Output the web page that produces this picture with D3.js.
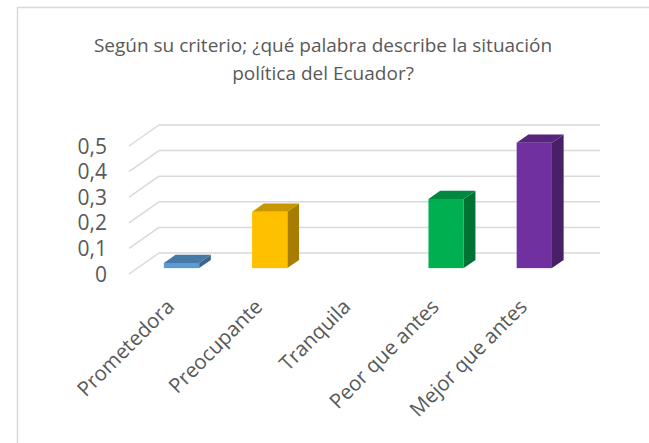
<!DOCTYPE html>
<html>
<head>
<meta charset="utf-8">
<script src="https://cdn.jsdelivr.net/npm/d3@7"></script>
<style>
  body { margin: 0; background: #fff; }
  text { font-family: "Open Sans", sans-serif; fill: #595959; }
</style>
</head>
<body>
<div id="chart"></div>
<script>
// datos
const categorias = ["Prometedora", "Preocupante", "Tranquila", "Peor que antes", "Mejor que antes"];
const valores = [0.02, 0.22, 0, 0.27, 0.49];
const colores = ["#5B9BD5", "#FFC000", "#A5A5A5", "#00B050", "#7030A0"];
const ticks = [0, 0.1, 0.2, 0.3, 0.4, 0.5];
const titulo = ["Según su criterio; ¿qué palabra describe la situación", "política del Ecuador?"];

const width = 649;
const height = 443;

// profundidad del eje (de frente hacia el fondo)
const depth = [30, -21];
const barFront = 0.28, barBack = 0.67;

const svg = d3.select("#chart")
    .append("svg")
    .attr("width", width)
    .attr("height", height);

// borde del grafico
svg.append("rect")
    .attr("x", 17.5).attr("y", 7.5)
    .attr("width", 700).attr("height", 500)
    .attr("fill", "none")
    .attr("stroke", "#d9d9d9")
    .attr("stroke-width", 1.5);

// titulo
svg.selectAll("text.titulo")
    .data(titulo)
    .enter()
    .append("text")
    .attr("class", "titulo")
    .attr("x", 323)
    .attr("y", (d, i) => 52 + i * 28)
    .attr("text-anchor", "middle")
    .style("font-size", "19px")
    .text(d => d);

// escalas (plano del fondo)
const x = d3.scaleBand().domain(categorias).range([159, 600]);
const y = d3.scaleLinear().domain([0, 0.5]).range([253, 125]);

// lineas de cuadricula
const grid = svg.append("g");
grid.selectAll("line.h")
    .data(ticks)
    .enter()
    .append("line")
    .attr("x1", 159).attr("x2", 600)
    .attr("y1", d => y(d)).attr("y2", d => y(d))
    .attr("stroke", "#d9d9d9").attr("stroke-width", 1.5);
grid.selectAll("line.d")
    .data(ticks)
    .enter()
    .append("line")
    .attr("x1", 159 - depth[0]).attr("y1", d => y(d) - depth[1])
    .attr("x2", 159).attr("y2", d => y(d))
    .attr("stroke", "#d9d9d9").attr("stroke-width", 1.5);

// etiquetas eje y
const fmt = d => d3.format(".1f")(d).replace(".", ",").replace(/^0,0$/, "0");
svg.selectAll("text.ytick")
    .data(ticks)
    .enter()
    .append("text")
    .attr("x", 107)
    .attr("y", d => y(d) - depth[1])
    .attr("dy", "0.36em")
    .attr("text-anchor", "end")
    .style("font-size", "21px")
    .text(fmt);

// barras 3D
const barW = x.bandwidth() * 0.4;
const bars = categorias.map((c, i) => ({ c: c, v: valores[i], color: colores[i] }))
    .filter(d => d.v > 0);

const g = svg.append("g");
bars.forEach(d => {
    const cx = x(d.c) + x.bandwidth() / 2 - depth[0] + depth[0] * barFront;
    const x0 = cx - barW / 2, x1 = cx + barW / 2;
    const yb = y(0) - depth[1] + depth[1] * barFront;
    const yt = yb - (y(0) - y(d.v));
    const dx = depth[0] * (barBack - barFront), dy = depth[1] * (barBack - barFront);
    const base = d3.color(d.color);

    // cara lateral
    g.append("path")
        .attr("d", `M${x1},${yt}L${x1 + dx},${yt + dy}L${x1 + dx},${yb + dy}L${x1},${yb}Z`)
        .attr("fill", base.darker(1.2));
    // cara superior
    g.append("path")
        .attr("d", `M${x0},${yt}L${x1},${yt}L${x1 + dx},${yt + dy}L${x0 + dx},${yt + dy}Z`)
        .attr("fill", base.darker(0.7));
    // cara frontal
    g.append("rect")
        .attr("x", x0).attr("y", yt)
        .attr("width", barW).attr("height", yb - yt)
        .attr("fill", base);
});

// etiquetas eje x
svg.selectAll("text.xtick")
    .data(categorias)
    .enter()
    .append("text")
    .attr("text-anchor", "end")
    .style("font-size", "20.5px")
    .attr("transform", d => {
        const cx = x(d) + x.bandwidth() / 2 - depth[0] + depth[0] * barFront;
        return `translate(${cx - 6},${308}) rotate(-45)`;
    })
    .text(d => d);
</script>
</body>
</html>
